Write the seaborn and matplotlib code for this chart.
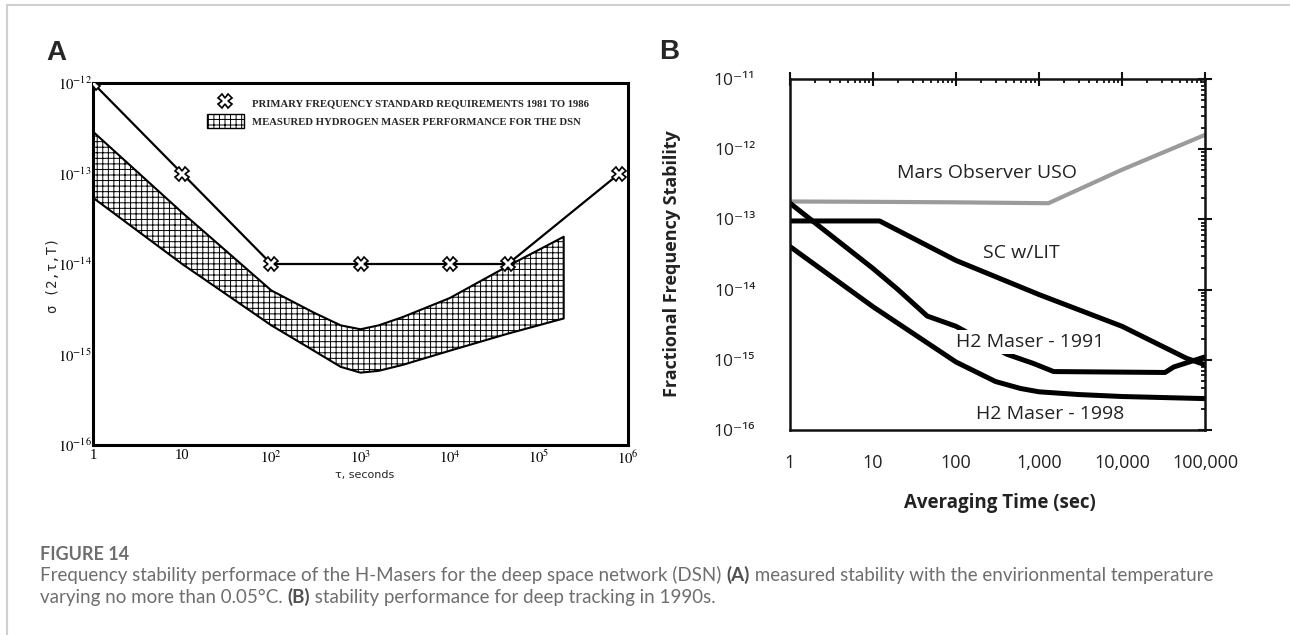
import matplotlib
matplotlib.use("Agg")
import matplotlib.pyplot as plt
import matplotlib.ticker as mticker
from matplotlib.patches import Rectangle, Patch
from matplotlib.lines import Line2D
import numpy as np
import pandas as pd
import seaborn as sns

# ---------------- Panel A data ----------------
req_tau = [1, 10, 100, 1000, 1e4, 4.5e4, 8e5]
req_sigma = [1e-12, 1e-13, 1e-14, 1e-14, 1e-14, 1e-14, 1e-13]
band_tau = [1, 10, 100, 300, 600, 1000, 1600, 3000, 1e4, 4.5e4, 1.9e5]
band_upper = [2.9e-13, 3.7e-14, 5.1e-15, 2.9e-15, 2.1e-15, 1.9e-15, 2.1e-15, 2.6e-15, 4.2e-15, 9.5e-15, 2.0e-14]
band_lower = [5.4e-14, 1.0e-14, 2.1e-15, 1.1e-15, 7.3e-16, 6.3e-16, 6.6e-16, 7.7e-16, 1.1e-15, 1.7e-15, 2.5e-15]
a_xticks = [1, 10, 1e2, 1e3, 1e4, 1e5, 1e6]
a_xticklabels = ['1', '10', r'$10^2$', r'$10^3$', r'$10^4$', r'$10^5$', r'$10^6$']
a_yticks = [1e-16, 1e-15, 1e-14, 1e-13, 1e-12]
a_yticklabels = [r'$10^{-16}$', r'$10^{-15}$', r'$10^{-14}$', r'$10^{-13}$', r'$10^{-12}$']
a_legend = ['PRIMARY FREQUENCY STANDARD REQUIREMENTS 1981 TO 1986',
            'MEASURED HYDROGEN MASER PERFORMANCE FOR THE DSN']

# ---------------- Panel B data ----------------
uso_tau = [1, 10, 100, 1300, 1e4, 1e5]
uso = [1.8e-13, 1.78e-13, 1.75e-13, 1.7e-13, 5.1e-13, 1.6e-12]
sc_tau = [1, 12, 100, 1000, 1e4, 6e4, 1e5]
sc = [9.5e-14, 9.5e-14, 2.6e-14, 8.5e-15, 3.0e-15, 1.05e-15, 8.5e-16]
h91_tau = [1, 10, 20, 45, 100, 410, 850, 1500, 3.3e4, 4.2e4, 1e5]
h91 = [1.7e-13, 2.0e-14, 1.0e-14, 4.2e-15, 3.0e-15, 1.2e-15, 8.9e-16, 6.8e-16, 6.6e-16, 7.9e-16, 1.1e-15]
h98_tau = [1, 10, 100, 300, 600, 1000, 3000, 1e4, 1e5]
h98 = [4.1e-14, 5.7e-15, 9.3e-16, 4.9e-16, 3.9e-16, 3.5e-16, 3.2e-16, 3.0e-16, 2.8e-16]
b_xticks = [1, 10, 100, 1000, 1e4, 1e5]
b_xticklabels = ['1', '10', '100', '1,000', '10,000', '100,000']
b_yticks = [1e-16, 1e-15, 1e-14, 1e-13, 1e-12, 1e-11]
b_yticklabels = ['10⁻¹⁶', '10⁻¹⁵', '10⁻¹⁴', '10⁻¹³', '10⁻¹²', '10⁻¹¹']
b_labels = ['Mars Observer USO', 'SC w/LIT', 'H2 Maser - 1991', 'H2 Maser - 1998']
b_label_pos = [(234, 4.6e-13), (620, 3.3e-14), (780, 1.8e-15), (1350, 1.7e-16)]

caption_title = 'FIGURE 14'
caption_line1 = [('Frequency stability performace of the H-Masers for the deep space network (DSN) ', 'normal'),
                 ('(A)', 'bold'),
                 (' measured stability with the envirionmental temperature', 'normal')]
caption_line2 = [('varying no more than 0.05°C. ', 'normal'),
                 ('(B)', 'bold'),
                 (' stability performance for deep tracking in 1990s.', 'normal')]

# ---------------- Style ----------------
sns.set_style('white')
plt.rcParams['mathtext.fontset'] = 'stix'
plt.rcParams['hatch.linewidth'] = 0.7
plt.rcParams['font.family'] = ['Open Sans', 'DejaVu Sans']

W, H = 1290, 635
fig = plt.figure(figsize=(W / 100, H / 100), dpi=100)


def fx(px):
    return px / W


def fy(py):
    return 1 - py / H


# figure border
fig.add_artist(Rectangle((fx(7), -0.2), 1.5, fy(5) + 0.2, transform=fig.transFigure,
                         fill=False, edgecolor='#cfcfcf', lw=1.5))

# ---------------- Panel A ----------------
axA = fig.add_axes([fx(93), fy(445), fx(628) - fx(93), fy(83) - fy(445)])
axA.set_xscale('log')
axA.set_yscale('log')
axA.fill_between(band_tau, band_lower, band_upper, facecolor='white', edgecolor='black',
                 hatch='+++', lw=1.5, zorder=2)
sns.lineplot(x=req_tau, y=req_sigma, ax=axA, color='black', lw=1.6, marker='X', ms=10,
             mfc='white', mec='black', mew=1.2, zorder=4, legend=False)
axA.set_xlim(1, 1e6)
axA.set_ylim(1e-16, 1e-12)
axA.set_xticks(a_xticks)
axA.set_xticklabels(a_xticklabels)
axA.set_yticks(a_yticks)
axA.set_yticklabels(a_yticklabels)
axA.xaxis.set_minor_locator(mticker.NullLocator())
axA.yaxis.set_minor_locator(mticker.NullLocator())
axA.tick_params(axis='both', which='major', direction='in', length=6, width=1.2,
                color='black', labelsize=10.5, labelcolor='black',
                labelfontfamily='Liberation Serif')
axA.tick_params(axis='x', pad=3)
axA.tick_params(axis='y', pad=1)
for s in axA.spines.values():
    s.set_linewidth(2.2)
    s.set_color('black')
axA.set_xlabel('τ, seconds', fontsize=8, family='DejaVu Sans')
axA.xaxis.set_label_coords(0.508, -0.068)
axA.set_ylabel('σ (2,τ,T)', fontsize=10, family='DejaVu Sans Mono')
axA.yaxis.set_label_coords(-0.062, 0.47)

handles = [Line2D([], [], ls='none', marker='X', ms=10, mfc='white', mec='black', mew=1.2),
           Patch(facecolor='white', edgecolor='black', hatch='+++', lw=1.0)]
axA.legend(handles, a_legend, loc='upper left', bbox_to_anchor=(0.213, 0.965),
           frameon=False, borderpad=0, borderaxespad=0, handlelength=3.45,
           handleheight=1.6, handletextpad=0.75, labelspacing=0.45,
           prop={'family': 'Liberation Serif', 'weight': 'bold', 'size': 7.7})

# ---------------- Panel B ----------------
axB = fig.add_axes([fx(790), fy(430), fx(1205) - fx(790), fy(79) - fy(430)])
axB.set_xscale('log')
axB.set_yscale('log')
sns.lineplot(x=uso_tau, y=uso, ax=axB, color='#9b9b9b', lw=3.0, legend=False)
sns.lineplot(x=sc_tau, y=sc, ax=axB, color='black', lw=3.6, legend=False)
sns.lineplot(x=h91_tau, y=h91, ax=axB, color='black', lw=3.6, legend=False)
sns.lineplot(x=h98_tau, y=h98, ax=axB, color='black', lw=3.6, legend=False)
axB.set_xlim(1, 1e5)
axB.set_ylim(1e-16, 1e-11)
axB.set_xticks(b_xticks)
axB.set_xticklabels(b_xticklabels)
axB.set_yticks(b_yticks)
axB.set_yticklabels(b_yticklabels)
axB.xaxis.set_minor_locator(mticker.LogLocator(base=10, subs=np.arange(2, 10)))
axB.yaxis.set_minor_locator(mticker.LogLocator(base=10, subs=np.arange(2, 10)))
axB.xaxis.set_minor_formatter(mticker.NullFormatter())
axB.yaxis.set_minor_formatter(mticker.NullFormatter())
axB.tick_params(axis='both', which='major', direction='inout', length=10, width=1.5,
                color='#111111', top=True, right=True, labelcolor='#222222')
axB.tick_params(axis='both', which='minor', direction='in', length=3, width=1.3,
                color='#111111', top=True, right=True)
axB.tick_params(axis='x', which='major', labelsize=13, pad=12)
axB.tick_params(axis='y', which='major', labelsize=12.5, pad=20)
for s in axB.spines.values():
    s.set_linewidth(1.8)
    s.set_color('#111111')
axB.set_xlabel('Averaging Time (sec)', fontsize=13.5, fontweight='bold', color='#222222')
axB.xaxis.set_label_coords(0.506, -0.18)
axB.set_ylabel('Fractional Frequency Stability', fontsize=13, fontweight='bold', color='#222222')
axB.yaxis.set_label_coords(-0.262, 0.473)
for i, (lab, (lx, ly)) in enumerate(zip(b_labels, b_label_pos)):
    kw = {}
    if i == 2:
        kw['bbox'] = dict(facecolor='white', edgecolor='none', pad=2)
    axB.text(lx, ly, lab, ha='center', va='center', fontsize=14, color='#222222', zorder=5, **kw)

# ---------------- Panel letters ----------------
fig.text(fx(46), fy(60), 'A', fontsize=20, fontweight='bold', family='Liberation Sans',
         ha='left', va='baseline')
fig.text(fx(659), fy(59), 'B', fontsize=20, fontweight='bold', family='Liberation Sans',
         ha='left', va='baseline')

# ---------------- Caption ----------------
cap = fig.add_axes([0, 0, 1, 1])
cap.axis('off')
cap.set_zorder(-1)
cap_color = '#6e6e6e'
cap_bold = '#505050'
cap_size = 13.5
cap.text(fx(40), fy(560), caption_title, transform=fig.transFigure, fontsize=13,
         fontweight='bold', color=cap_color, family='Lato', va='baseline', ha='left')


def rich_line(y_px, segments):
    prev = None
    for txt, wt in segments:
        col = cap_bold if wt == 'bold' else cap_color
        if prev is None:
            prev = cap.text(fx(40), fy(y_px), txt, transform=fig.transFigure, fontsize=cap_size,
                            fontweight=wt, color=col, family='Lato', va='bottom', ha='left')
        else:
            prev = cap.annotate(txt, xy=(1, 0), xycoords=prev, fontsize=cap_size,
                                fontweight=wt, color=col, family='Lato', va='bottom', ha='left')


rich_line(584, caption_line1)
rich_line(606, caption_line2)

fig.savefig('out.png', dpi=100)
